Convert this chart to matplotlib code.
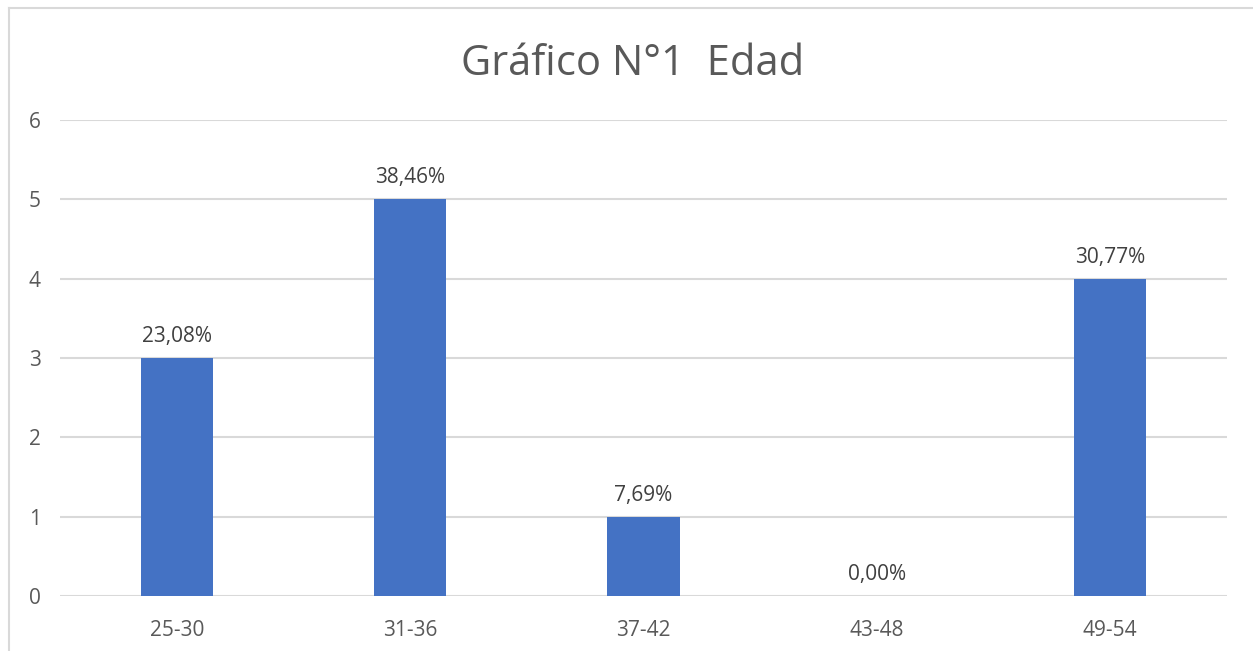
import numpy as np
import matplotlib
matplotlib.use('Agg')
from matplotlib import pyplot as plt
from matplotlib.lines import Line2D

# data
categories = ['25-30', '31-36', '37-42', '43-48', '49-54']
counts = [3, 5, 1, 0, 4]
labels = ['23,08%', '38,46%', '7,69%', '0,00%', '30,77%']

plt.rcParams['font.family'] = ['Open Sans', 'DejaVu Sans']

fig = plt.figure(figsize=(12.53, 6.51), dpi=100)
ax = fig.add_axes([0.0479, 0.0845, 0.9313, 0.7312])

x = np.arange(len(categories))
ax.bar(x, counts, width=0.31, color='#4472C4', zorder=3)

# data labels above bars
for xi, c, lab in zip(x, counts, labels):
    ax.annotate(lab, (xi, c), xytext=(0, 8), textcoords='offset points',
                ha='center', va='bottom', fontsize=15, color='#404040')

ax.set_xlim(-0.5, len(categories) - 0.5)
ax.set_ylim(0, 6)
ax.set_yticks(range(0, 7))
ax.set_xticks(x)
ax.set_xticklabels(categories)
ax.tick_params(length=0, labelsize=15, colors='#595959')
ax.tick_params(axis='y', pad=14)
ax.tick_params(axis='x', pad=17)
ax.yaxis.grid(True, color='#D9D9D9', linewidth=1.5, zorder=0)
for s in ax.spines.values():
    s.set_visible(False)

fig.text(0.505, 0.902, 'Gráfico N°1  Edad', ha='center', va='center',
         fontsize=30, color='#595959')

# outer chart border (left and top)
fig.add_artist(Line2D([0.0068, 0.0068], [0, 0.988], color='#D9D9D9', linewidth=1.5))
fig.add_artist(Line2D([0.0068, 1.0], [0.988, 0.988], color='#D9D9D9', linewidth=1.5))

plt.savefig('out.png', dpi=100)
